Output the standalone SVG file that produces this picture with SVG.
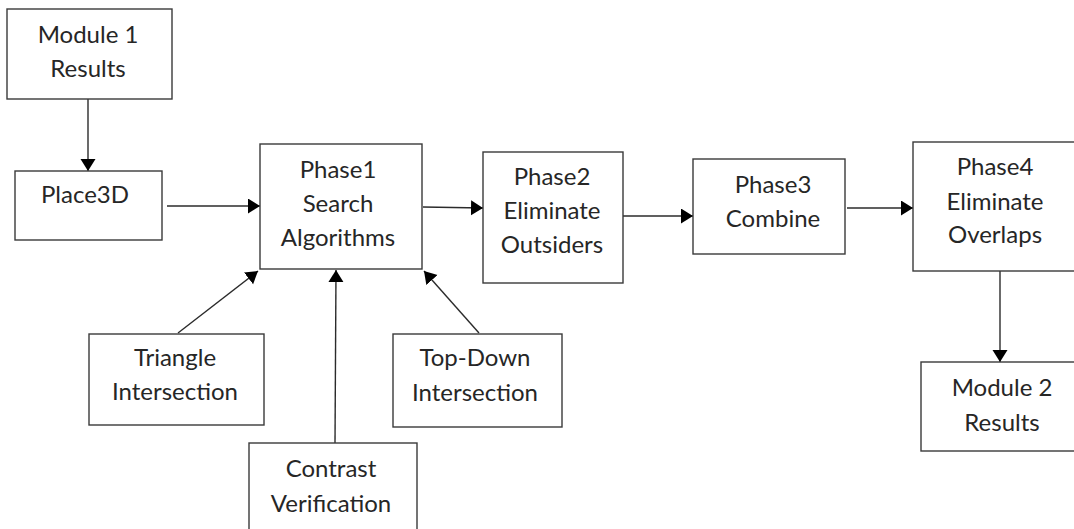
<svg xmlns="http://www.w3.org/2000/svg" width="1074" height="529" viewBox="0 0 1074 529">
  <style>
    .box { fill: #ffffff; stroke: #3a3a3a; stroke-width: 1.4; }
    .lbl { font-family: Lato, "Liberation Sans", "Noto Sans", sans-serif; font-size: 24px; fill: #262626; text-anchor: middle; }
    .edge { fill: none; stroke: #2b2b2b; stroke-width: 1.4; }
  </style>
  <defs>
    <marker id="arrow" markerUnits="userSpaceOnUse" markerWidth="14" markerHeight="16" refX="12" refY="7.5" orient="auto">
      <path d="M0,0 L12,7.5 L0,15 z" fill="#000000"/>
    </marker>
  </defs>
  <rect width="1074" height="529" fill="#ffffff"/>

  <g id="connectors">
    <line class="edge" x1="88" y1="99" x2="88" y2="171" marker-end="url(#arrow)"/>
    <line class="edge" x1="167" y1="206" x2="260" y2="206" marker-end="url(#arrow)"/>
    <line class="edge" x1="423" y1="207" x2="483" y2="208" marker-end="url(#arrow)"/>
    <line class="edge" x1="623" y1="216" x2="693" y2="216" marker-end="url(#arrow)"/>
    <line class="edge" x1="847" y1="208" x2="913" y2="208" marker-end="url(#arrow)"/>
    <line class="edge" x1="1000" y1="271" x2="1000" y2="362" marker-end="url(#arrow)"/>
    <line class="edge" x1="178" y1="333" x2="258" y2="271" marker-end="url(#arrow)"/>
    <line class="edge" x1="335" y1="443" x2="336" y2="270" marker-end="url(#arrow)"/>
    <line class="edge" x1="479" y1="333" x2="424" y2="271" marker-end="url(#arrow)"/>
  </g>

  <g id="module1">
    <rect class="box" x="7" y="9" width="165" height="90"/>
    <text class="lbl" x="88" y="43">Module 1</text>
    <text class="lbl" x="88" y="77">Results</text>
  </g>
  <g id="place3d">
    <rect class="box" x="15" y="171" width="147" height="69"/>
    <text class="lbl" x="85" y="203">Place3D</text>
  </g>
  <g id="phase1">
    <rect class="box" x="260" y="144" width="162" height="125"/>
    <text class="lbl" x="338" y="178">Phase1</text>
    <text class="lbl" x="338" y="212">Search</text>
    <text class="lbl" x="338" y="246">Algorithms</text>
  </g>
  <g id="phase2">
    <rect class="box" x="483" y="152" width="140" height="131"/>
    <text class="lbl" x="552" y="185">Phase2</text>
    <text class="lbl" x="552" y="219">Eliminate</text>
    <text class="lbl" x="552" y="253">Outsiders</text>
  </g>
  <g id="phase3">
    <rect class="box" x="693" y="159" width="152" height="95"/>
    <text class="lbl" x="773" y="193">Phase3</text>
    <text class="lbl" x="773" y="227">Combine</text>
  </g>
  <g id="phase4">
    <rect class="box" x="913" y="142" width="167" height="129"/>
    <text class="lbl" x="995" y="175">Phase4</text>
    <text class="lbl" x="995" y="210">Eliminate</text>
    <text class="lbl" x="995" y="243">Overlaps</text>
  </g>
  <g id="module2">
    <rect class="box" x="921" y="362" width="162" height="89"/>
    <text class="lbl" x="1002" y="396">Module 2</text>
    <text class="lbl" x="1002" y="431">Results</text>
  </g>
  <g id="triangle">
    <rect class="box" x="89" y="334" width="175" height="91"/>
    <text class="lbl" x="175" y="366">Triangle</text>
    <text class="lbl" x="175" y="400">Intersection</text>
  </g>
  <g id="contrast">
    <rect class="box" x="249" y="443" width="168" height="100"/>
    <text class="lbl" x="331" y="477">Contrast</text>
    <text class="lbl" x="331" y="512">Verification</text>
  </g>
  <g id="topdown">
    <rect class="box" x="393" y="334" width="169" height="93"/>
    <text class="lbl" x="475" y="366">Top-Down</text>
    <text class="lbl" x="475" y="401">Intersection</text>
  </g>
</svg>
